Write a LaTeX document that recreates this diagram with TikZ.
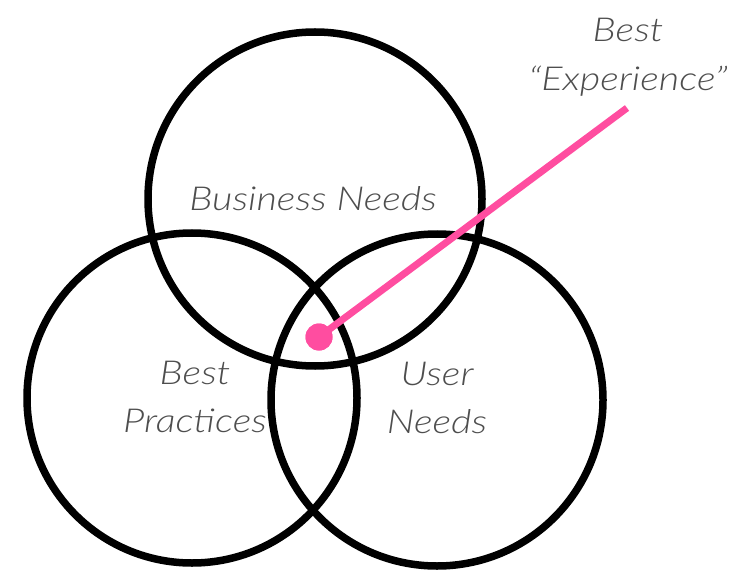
\documentclass[tikz,border=0pt]{standalone}
\usepackage{fontspec}
\setmainfont{Lato}[UprightFont=* Light, ItalicFont=* Light Italic, FakeStretch=1.2]
\definecolor{hotpink}{RGB}{255,77,160}
\definecolor{labelgray}{RGB}{78,78,78}
\begin{document}
\begin{tikzpicture}[x=1pt,y=-1pt,
  venn/.style={circle, draw=black, line width=7.5pt, inner sep=0pt, outer sep=0pt},
  lbl/.style={font=\itshape\fontsize{33}{48.5}\selectfont, text=labelgray, align=center, inner sep=0pt},
  pinkline/.style={draw=hotpink, line width=7pt},
  pinkdot/.style={circle, fill=hotpink, inner sep=0pt, minimum size=27pt}]
\useasboundingbox (0,0) rectangle (751,585);
\node[venn, minimum size=334pt] (top) at (315,199) {};
\node[venn, minimum size=330pt] (left) at (192,398) {};
\node[venn, minimum size=332pt] (right) at (437,400) {};
\coordinate (lineend) at (627,108);
\node[pinkdot] (dot) at (319,337) {};
\draw[pinkline] (dot.center) -- (lineend);
\node[pinkdot] at (dot.center) {};
\node[lbl] (bn) at (313,199) {Business Needs};
\node[lbl] (bp) at (195,397) {Best\\Practices};
\node[lbl] (un) at (437,398) {User\\Needs};
\node[lbl] (be) at (628,57) {Best\\“Experience”};
\end{tikzpicture}
\end{document}
